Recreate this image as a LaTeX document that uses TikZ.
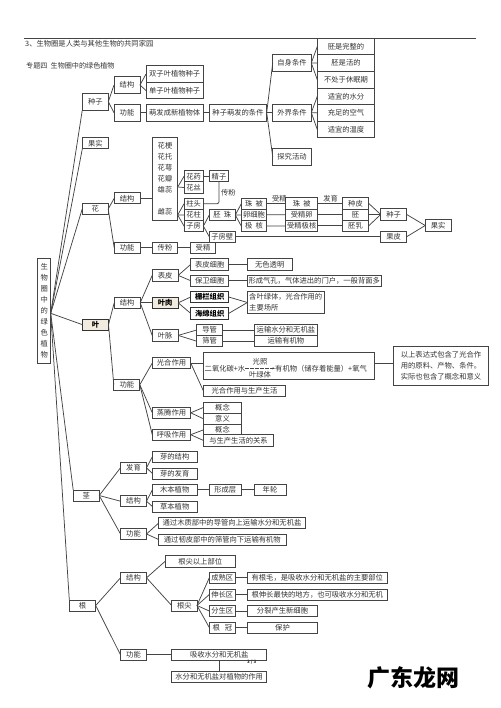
\documentclass[tikz,border=0pt]{standalone}
\usepackage{fontspec}
\setmainfont{Noto Sans CJK SC}
\usetikzlibrary{arrows.meta, positioning}
\definecolor{ink}{HTML}{333333}
\definecolor{wire}{HTML}{444444}
\definecolor{leafbg}{HTML}{F1ECDF}
\newcommand{\boxfont}{\fontsize{7.3}{10.8}\selectfont}
\tikzset{
  box/.style      = {rectangle, draw=wire, line width=0.8pt, fill=white, text=ink,
                      minimum width=26pt, minimum height=11.2pt, inner sep=0pt, outer sep=0pt,
                      align=center, font=\boxfont},
  tallbox/.style  = {box, minimum height=16.6pt},
  keybox/.style   = {box, font=\boxfont\bfseries, text=black, draw=ink},
  plain/.style    = {text=ink, inner sep=0pt, font=\boxfont},
  flow/.style     = {line width=0.75pt, draw=wire},
}
\begin{document}
\begin{tikzpicture}[x=1pt, y=-1pt]
  \useasboundingbox (0,0) rectangle (500,708);
  \coordinate (ruleleft) at (24,38);
  \coordinate (ruleright) at (475.5,38);
  \draw[flow] (ruleleft) -- (ruleright);
  \node[plain, anchor=west] (heading) at (25,44) {3、生物圈是人类与其他生物的共同家园};
  \node[plain, anchor=west, font=\fontsize{7.1}{10}\selectfont] (topic) at (26,66) {专题四\ \ 生物圈中的绿色植物};

  \node[box, minimum width=13pt, minimum height=105pt, font=\fontsize{7.3}{11.1}\selectfont] (plant) at (44.2,310.8) {生\\物\\圈\\中\\的\\绿\\色\\植\\物};

  \node[tallbox] (seed) at (95.3,101.7) {种子};
  \node[tallbox] (seedstruct) at (127,85) {结构};
  \node[tallbox] (seedfunc) at (127,112.7) {功能};
  \node[tallbox, minimum width=57.3pt] (dicot) at (174.7,74) {双子叶植物种子};
  \node[tallbox, minimum width=57.3pt, below=0pt of dicot] (monocot) {单子叶植物种子};
  \node[tallbox, minimum width=57.3pt] (sprout) at (174.7,112.7) {萌发成新植物体};
  \node[tallbox, minimum width=57.4pt] (cond) at (238,112.7) {种子萌发的条件};
  \node[tallbox, minimum width=38.6pt] (selfcond) at (292,63) {自身条件};
  \node[tallbox, minimum width=38.6pt] (outcond) at (292,112.7) {外界条件};
  \node[tallbox, minimum width=38.6pt] (probe) at (292,156.7) {探究活动};
  \node[tallbox, minimum width=57.4pt] (whole) at (346,46.5) {胚是完整的};
  \node[tallbox, minimum width=57.4pt, below=0pt of whole] (alive) {胚是活的};
  \node[tallbox, minimum width=57.4pt, below=0pt of alive] (awake) {不处于休眠期};
  \node[tallbox, minimum width=57.4pt, below=0pt of awake] (moist) {适宜的水分};
  \node[tallbox, minimum width=57.4pt, below=0pt of moist] (airy) {充足的空气};
  \node[tallbox, minimum width=57.4pt, below=0pt of airy] (warm) {适宜的温度};

  \node[box] (fruit) at (95.3,143.3) {果实};

  \node[box] (flower) at (95.2,209) {花};
  \node[box] (flowerstruct) at (127.2,198.3) {结构};
  \node[box] (flowerfunc) at (127.2,247.7) {功能};
  \node[box, minimum width=25.4pt, minimum height=82.7pt, font=\fontsize{7.3}{11}\selectfont] (parts) at (165,178.6) {花梗\\花托\\花萼\\花瓣\\雄蕊\\[11pt]雌蕊};
  \coordinate (stamenfan) at (177.7,187);
  \coordinate (pistilfan) at (177.7,215);
  \node[box, minimum width=19.3pt] (anther) at (193.7,176.3) {花药};
  \node[box, minimum width=19.3pt, below=0pt of anther] (filament) {花丝};
  \node[box, minimum width=19.3pt] (stigma) at (193.7,203.7) {柱头};
  \node[box, minimum width=19.3pt, below=0pt of stigma] (stylus) {花柱};
  \node[box, minimum width=19.3pt, below=0pt of stylus] (ovary) {子房};
  \node[box, minimum width=19.3pt] (sperm) at (219,176.3) {精子};
  \node[box] (ovule) at (222.3,215) {胚\ \ 珠};
  \node[box] (ovarywall) at (222.3,236.7) {子房壁};
  \node[box, minimum width=25.4pt] (integ) at (254,203.7) {珠\ \ 被};
  \node[box, minimum width=25.4pt, below=0pt of integ] (egg) {卵细胞};
  \node[box, minimum width=25.4pt, below=0pt of egg] (polar) {极\ \ 核};
  \node[box, minimum width=32pt] (integb) at (301.7,203.4) {珠\ \ 被};
  \node[box, minimum width=32pt, below=0pt of integb] (zygote) {受精卵};
  \node[box, minimum width=32pt, below=0pt of zygote] (fertpolar) {受精极核};
  \node[box, minimum width=26.4pt] (coat) at (355.5,203.4) {种皮};
  \node[box, minimum width=26.4pt, below=0pt of coat] (embryo) {胚};
  \node[box, minimum width=26.4pt, below=0pt of embryo] (endosperm) {胚乳};
  \node[box] (seedb) at (393.7,214.5) {种子};
  \node[box] (pericarp) at (393.7,236.7) {果皮};
  \node[box] (fruitb) at (438.2,225.5) {果实};
  \node[box, minimum width=25.4pt] (pollen) at (165,247.7) {传粉};
  \node[box, minimum width=25.4pt] (fertile) at (203,247.7) {受精};
  \node[plain] (pollenlbl) at (228.3,192.3) {传粉};
  \node[plain] (fertilelbl) at (279.3,198.3) {受精};
  \node[plain] (growlbl) at (330.7,198.3) {发育};

  \node[keybox, fill=leafbg] (leaf) at (95.5,324.7) {叶};
  \node[box] (leafstruct) at (127.2,302.8) {结构};
  \node[box] (leaffunc) at (126.8,384.7) {功能};
  \node[box] (epid) at (165.2,275.4) {表皮};
  \node[keybox, fill=leafbg] (mesophyll) at (165.2,302.8) {叶肉};
  \node[box] (vein) at (165.2,335.4) {叶脉};
  \node[box, minimum width=38pt] (epidcell) at (209.7,264.4) {表皮细胞};
  \node[box, minimum width=38pt] (guard) at (209.7,280.7) {保卫细胞};
  \node[keybox, minimum width=38pt] (palisade) at (209.7,297) {栅栏组织};
  \node[keybox, minimum width=38pt] (spongy) at (209.7,313.4) {海绵组织};
  \node[box] (xylem) at (209.7,330) {导管};
  \node[box, below=0pt of xylem] (phloem) {筛管};
  \node[box, minimum width=44.7pt] (clear) at (269.7,264.4) {无色透明};
  \node[box, minimum width=133.7pt] (stoma) at (314.2,280.7) {形成气孔，气体进出的门户，一般背面多};
  \node[box, minimum width=76.7pt, minimum height=21.6pt, align=left] (chloro) at (285.7,302.5) {含叶绿体，光合作用的\\主要场所};
  \node[box, minimum width=63.7pt] (waterway) at (285.9,330) {运输水分和无机盐};
  \node[box, minimum width=63.7pt, below=0pt of waterway] (sugarway) {运输有机物};
  \node[box, minimum width=38.4pt] (photo) at (171.5,363) {光合作用};
  \node[box, minimum width=171.4pt, minimum height=27.7pt] (formula) at (289,366) {};
  \node[plain, anchor=west] (reactant) at (204.5,368.3) {二氧化碳+水};
  \node[plain, anchor=west] (product) at (275,368.3) {有机物（储存着能量）+氧气};
  \node[plain] (lightlbl) at (260,362.2) {光照};
  \node[plain] (greenlbl) at (260,374.3) {叶绿体};
  \draw[flow, dash pattern=on 4pt off 1pt, -{Stealth[length=2.5pt]}] (reactant) -- (product);
  \node[box, minimum width=82.4pt] (life) at (244.5,390.7) {光合作用与生产生活};
  \node[box, minimum width=38.4pt] (transp) at (171.5,412.8) {蒸腾作用};
  \node[box, minimum width=38.4pt] (resp) at (171.5,434.7) {呼吸作用};
  \node[box, minimum width=38.4pt] (concepta) at (222.5,407.5) {概念};
  \node[box, minimum width=38.4pt, below=0pt of concepta] (meaning) {意义};
  \node[box, minimum width=38.4pt, below=0pt of meaning] (conceptb) {概念};
  \node[box, minimum width=70.4pt] (relation) at (238.5,440.4) {与生产生活的关系};
  \node[box, minimum width=95.7pt, minimum height=38.6pt, align=left] (note) at (441,366) {以上表达式包含了光合作\\用的原料、产物、条件。\\实际也包含了概念和意义};

  \node[box] (stem) at (86.2,495.5) {茎};
  \node[box] (stemgrow) at (133.5,467.8) {发育};
  \node[box] (stemstruct) at (133.5,501.2) {结构};
  \node[box] (stemfunc) at (133.5,534) {功能};
  \node[box, minimum width=44.7pt] (budstruct) at (174.7,456.8) {芽的结构};
  \node[box, minimum width=44.7pt] (budgrow) at (174.7,473.5) {芽的发育};
  \node[box, minimum width=44.7pt] (woody) at (174.7,489.8) {木本植物};
  \node[box, minimum width=44.7pt] (herb) at (174.7,506.5) {草本植物};
  \node[box, minimum width=32pt] (cambium) at (225.3,489.8) {形成层};
  \node[box, minimum width=32pt] (ring) at (270,489.8) {年轮};
  \node[box, minimum width=146.6pt] (upway) at (232,523) {通过木质部中的导管向上运输水分和无机盐};
  \node[box, minimum width=127.3pt] (downway) at (222.3,539.5) {通过韧皮部中的筛管向下运输有机物};

  \node[box, minimum width=26.4pt] (rootn) at (82.5,605.5) {根};
  \node[box] (rootstruct) at (133.5,577.8) {结构};
  \node[box] (rootfunc) at (133.5,654.8) {功能};
  \node[box, minimum width=70.3pt] (above) at (200.2,561.4) {根尖以上部位};
  \node[box, minimum width=25.3pt] (tip) at (184.3,605.5) {根尖};
  \node[box] (mature) at (222.3,577.8) {成熟区};
  \node[box] (elong) at (222.3,594.5) {伸长区};
  \node[box] (merist) at (222.3,611) {分生区};
  \node[box] (rootcap) at (222.3,627.5) {根\ \ \ 冠};
  \node[box, minimum width=140pt] (hair) at (317.3,577.8) {有根毛，是吸收水分和无机盐的主要部位};
  \node[box, minimum width=140pt] (fastest) at (317.3,594.5) {根伸长最快的地方，也可吸收水分和无机};
  \node[box, minimum width=70.4pt] (newcell) at (282.5,611) {分裂产生新细胞};
  \node[box, minimum width=70.4pt] (protect) at (282.5,627.5) {保护};
  \node[box, minimum width=95pt] (absorb) at (219.2,654.8) {吸收水分和无机盐};
  \node[box, minimum width=95pt] (effect) at (219.2,676.8) {水分和无机盐对植物的作用};
  \node[plain, font=\fontsize{4.5}{5}\selectfont\bfseries] (pageno) at (251.7,662.3) {3 / 3};
  \node[inner sep=0pt, font=\fontsize{23}{24}\selectfont\bfseries] (mark) at (413.5,678) {广东龙网};

  \coordinate (hub) at ([yshift=-2.5pt]plant.east);
  \draw[flow] (hub) -- (seed.south west);
  \draw[flow] (hub) -- (fruit.south west);
  \draw[flow] (hub) -- (flower.west);
  \draw[flow] (hub) -- (leaf.west);
  \draw[flow] (hub) -- (stem.north west);
  \draw[flow] (hub) -- (rootn.north west);

  \draw[flow] (seed.east) -- (seedstruct.west);
  \draw[flow] (seed.east) -- (seedfunc.west);
  \draw[flow] (seedstruct.east) -- (dicot.west);
  \draw[flow] (seedstruct.east) -- (monocot.west);
  \draw[flow] (seedfunc) -- (sprout);
  \draw[flow] (sprout) -- (cond);
  \draw[flow] (cond.east) -- (selfcond.west);
  \draw[flow] (cond.east) -- (outcond.west);
  \draw[flow] (cond.east) -- (probe.west);
  \draw[flow] (selfcond.east) -- (whole.west);
  \draw[flow] (selfcond.east) -- (alive.west);
  \draw[flow] (selfcond.east) -- (awake.west);
  \draw[flow] (outcond.east) -- (moist.west);
  \draw[flow] (outcond.east) -- (airy.west);
  \draw[flow] (outcond.east) -- (warm.west);

  \draw[flow] (flower.east) -- (flowerstruct.west);
  \draw[flow] (flower.east) -- (flowerfunc.west);
  \draw[flow] (flowerstruct) -- (flowerstruct -| parts.west);
  \draw[flow] (stamenfan) -- (anther.west);
  \draw[flow] (stamenfan) -- (filament.west);
  \draw[flow] (pistilfan) -- (stigma.west);
  \draw[flow] (pistilfan) -- (stylus.west);
  \draw[flow] (pistilfan) -- (ovary.west);
  \draw[flow] (anther) -- (sperm);
  \draw[flow, rounded corners=2pt] (sperm) |- (stigma);
  \draw[flow] (ovary.east) -- (ovule.west);
  \draw[flow] (ovary.east) -- (ovarywall.west);
  \draw[flow] (ovule.east) -- (integ.west);
  \draw[flow] (ovule.east) -- (egg.west);
  \draw[flow] (ovule.east) -- (polar.west);
  \draw[flow] (integ) -- (integb);
  \draw[flow] (egg) -- (zygote);
  \draw[flow] (polar) -- (fertpolar);
  \draw[flow] (integb) -- (coat);
  \draw[flow] (zygote) -- (embryo);
  \draw[flow] (fertpolar) -- (endosperm);
  \draw[flow] (coat.east) -- (seedb.west);
  \draw[flow] (embryo.east) -- (seedb.west);
  \draw[flow] (endosperm.east) -- (seedb.west);
  \draw[flow] (ovarywall) -- (pericarp);
  \draw[flow] (seedb.east) -- (fruitb.west);
  \draw[flow] (pericarp.east) -- (fruitb.west);
  \draw[flow] (flowerfunc) -- (pollen);
  \draw[flow] (pollen) -- (fertile);

  \draw[flow] (leaf.east) -- (leafstruct.west);
  \draw[flow] (leaf.east) -- (leaffunc.west);
  \draw[flow] (leafstruct.east) -- (epid.west);
  \draw[flow] (leafstruct.east) -- (mesophyll.west);
  \draw[flow] (leafstruct.east) -- (vein.west);
  \draw[flow] (epid.east) -- (epidcell.west);
  \draw[flow] (epid.east) -- (guard.west);
  \draw[flow] (mesophyll.east) -- (palisade.west);
  \draw[flow] (mesophyll.east) -- (spongy.west);
  \draw[flow] (vein.east) -- (xylem.west);
  \draw[flow] (vein.east) -- (phloem.west);
  \draw[flow] (epidcell) -- (epidcell -| clear.west);
  \draw[flow] (guard) -- (guard -| stoma.west);
  \draw[flow] (palisade.east) -- (chloro.west);
  \draw[flow] (spongy.east) -- (chloro.west);
  \draw[flow] (xylem) -- (waterway);
  \draw[flow] (phloem) -- (sugarway);
  \draw[flow] (leaffunc.east) -- (photo.west);
  \draw[flow] (leaffunc.east) -- (transp.west);
  \draw[flow] (leaffunc.east) -- (resp.west);
  \draw[flow] (photo) -- (photo -| formula.west);
  \draw[flow] (photo.east) -- (life.west);
  \draw[flow] ([yshift=3pt]formula.east) -- ([yshift=3pt]note.west);
  \draw[flow] (transp.east) -- (concepta.west);
  \draw[flow] (transp.east) -- (meaning.west);
  \draw[flow] (resp.east) -- (conceptb.west);
  \draw[flow] (resp.east) -- (relation.west);

  \draw[flow] (stem.east) -- (stemgrow.west);
  \draw[flow] (stem.east) -- (stemstruct.west);
  \draw[flow] (stem.east) -- (stemfunc.west);
  \draw[flow] (stemgrow.east) -- (budstruct.west);
  \draw[flow] (stemgrow.east) -- (budgrow.west);
  \draw[flow] (stemstruct.east) -- (woody.west);
  \draw[flow] (stemstruct.east) -- (herb.west);
  \draw[flow] (woody) -- (cambium);
  \draw[flow] (cambium) -- (ring);
  \draw[flow] (stemfunc.east) -- (upway.west);
  \draw[flow] (stemfunc.east) -- (downway.west);

  \draw[flow] (rootn.east) -- (rootstruct.west);
  \draw[flow] (rootn.east) -- (rootfunc.west);
  \draw[flow] (rootstruct.east) -- (above.west);
  \draw[flow] (rootstruct.east) -- (tip.west);
  \draw[flow] (tip.east) -- (mature.west);
  \draw[flow] (tip.east) -- (elong.west);
  \draw[flow] (tip.east) -- (merist.west);
  \draw[flow] (tip.east) -- (rootcap.west);
  \draw[flow] (mature) -- (hair);
  \draw[flow] (elong) -- (fastest);
  \draw[flow] (merist) -- (newcell);
  \draw[flow] (rootcap) -- (protect);
  \draw[flow] (rootfunc) -- (absorb);
  \draw[flow] (absorb) -- (effect);
\end{tikzpicture}
\end{document}
